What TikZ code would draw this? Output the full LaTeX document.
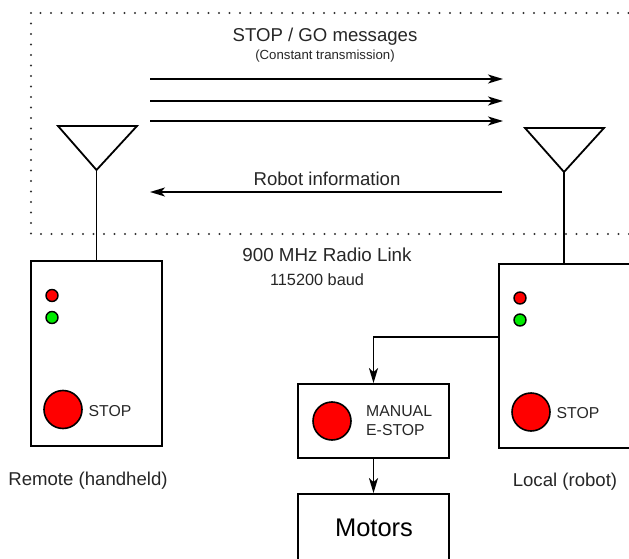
\documentclass[tikz,border=0pt]{standalone}
\usepackage{fontspec}
\setmainfont{Liberation Sans}
\usetikzlibrary{arrows.meta}
\newcommand{\fsz}[1]{\fontsize{#1}{#1}\selectfont}
\definecolor{ledred}{RGB}{255,0,0}
\definecolor{ledgreen}{RGB}{0,235,0}
\tikzset{
  wire/.style={line width=1.8pt, line join=miter},
  sig/.style={line width=1.8pt, -{Stealth[length=15pt,width=9pt,inset=4pt]}},
  unit/.style={draw, line width=1.8pt, rectangle, inner sep=0pt},
  led/.style={draw, line width=1.4pt, circle, inner sep=0pt, minimum size=12pt},
  bigbtn/.style={draw, line width=1.6pt, circle, inner sep=0pt, minimum size=38pt, fill=ledred},
  lbl/.style={inner sep=0pt, text=black!85},
}
\begin{document}
\begin{tikzpicture}[x=1pt, y=-1pt]
\useasboundingbox (0,0) rectangle (629,559);

% radio link area
\draw[line width=2.2pt, line cap=round, dash pattern=on 0pt off 10.5pt, black!80]
  (31,13) rectangle (660,234);

\node[lbl, font=\fsz{18.6}] (msgs) at (325,37) {STOP / GO messages};
\node[lbl, font=\fsz{13.2}] (const) at (325,56) {(Constant transmission)};
\node[lbl, font=\fsz{18.6}] (info) at (327,179) {Robot information};
\node[lbl, font=\fsz{18.8}] (link) at (327,255) {900 MHz Radio Link};
\node[lbl, font=\fsz{16.3}] (baud) at (317,280) {115200 baud};

% transmission arrows
\coordinate (m1a) at (150,79);  \coordinate (m1b) at (503,79);
\coordinate (m2a) at (150,101); \coordinate (m2b) at (503,101);
\coordinate (m3a) at (150,121); \coordinate (m3b) at (503,121);
\coordinate (r1a) at (502,192); \coordinate (r1b) at (150,192);
\draw[sig] (m1a) -- (m1b);
\draw[sig] (m2a) -- (m2b);
\draw[sig] (m3a) -- (m3b);
\draw[sig] (r1a) -- (r1b);

% antennas
\coordinate (antL) at (96.5,170);
\coordinate (antR) at (564,172);
\draw[wire] (58,126) -- (137,126) -- (antL) -- cycle;
\draw[wire] (525,128) -- (604,128) -- (antR) -- cycle;

% remote (handheld) unit
\node[unit, minimum width=131pt, minimum height=185pt] (remote) at (96.5,353.5) {};
\node[led, fill=ledred]   (rledr) at (52,295.5) {};
\node[led, fill=ledgreen] (rledg) at (52,317.5) {};
\node[bigbtn] (rbtn) at (63,409.5) {};
\node[lbl, font=\fsz{15.8}] (rstop) at (110,411) {STOP};
\node[lbl, font=\fsz{18.6}] (rname) at (88,481) {Remote (handheld)};
\draw[wire] (antL) -- (remote.north);

% local (robot) unit
\node[unit, minimum width=151pt, minimum height=184pt] (local) at (574.5,356) {};
\node[led, fill=ledred]   (lledr) at (520,298) {};
\node[led, fill=ledgreen] (lledg) at (520,320) {};
\node[bigbtn] (lbtn) at (531,412) {};
\node[lbl, font=\fsz{15.8}] (lstop) at (578,413) {STOP};
\node[lbl, font=\fsz{18.6}] (lname) at (565,482) {Local (robot)};
\draw[wire] (antR) -- (antR |- local.north);

% manual e-stop and motors
\node[unit, minimum width=151pt, minimum height=74pt] (estop) at (373.5,421) {};
\node[bigbtn] (ebtn) at (332,421) {};
\node[lbl, font=\fsz{15.8}, align=left, anchor=west] (etxt) at (366,421)
  {MANUAL\\[3pt]E-STOP};
\node[unit, minimum width=151pt, minimum height=86pt] (motors) at (373.5,537) {};
\node[lbl, font=\fsz{25.5}, text=black] (mtxt) at (374,528) {Motors};

\coordinate (tap) at (499,337);
\draw[sig] (tap) -| (estop.north);
\draw[sig] (estop.south) -- (motors.north);
\end{tikzpicture}
\end{document}
